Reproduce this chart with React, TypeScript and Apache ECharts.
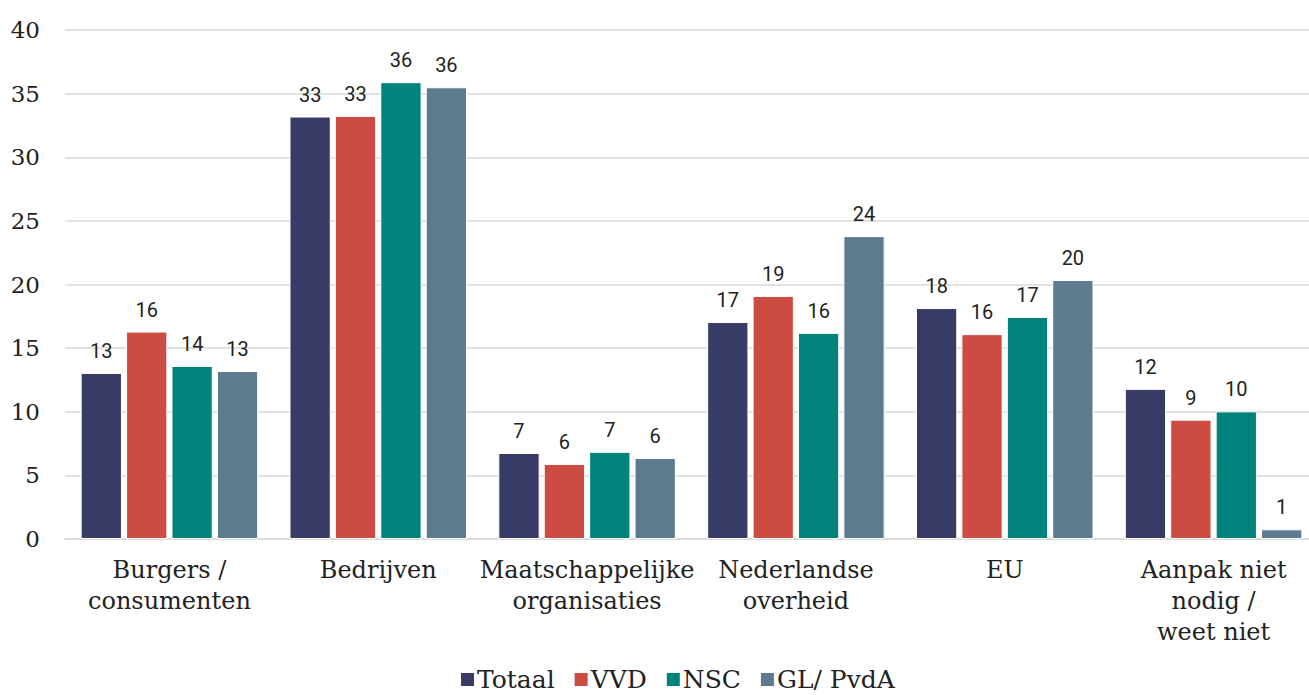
import React, { useEffect, useRef } from "react";
import * as echarts from "echarts";

const categories = [
  "Burgers /\nconsumenten",
  "Bedrijven",
  "Maatschappelijke\norganisaties",
  "Nederlandse\noverheid",
  "EU",
  "Aanpak niet\nnodig /\nweet niet",
];
const seriesNames = ["Totaal", "VVD", "NSC", "GL/ PvdA"];
const totaal = [13.05, 33.2, 6.76, 17.05, 18.15, 11.8];
const vvd = [16.3, 33.25, 5.9, 19.1, 16.1, 9.38];
const nsc = [13.6, 35.9, 6.85, 16.2, 17.45, 10.03];
const glpvda = [13.2, 35.5, 6.37, 23.8, 20.35, 0.76];
const colors = ["#393b67", "#cc4c43", "#00837a", "#5e7a8f"];
const yTicks = { min: 0, max: 40, interval: 5 };

const serif = "DejaVu Serif";

export default function App() {
  const ref = useRef<HTMLDivElement>(null);
  useEffect(() => {
    document.body.style.margin = "0";
    document.body.style.overflow = "hidden";
    if (!ref.current) return;
    const chart = echarts.init(ref.current, null, { renderer: "svg" });
    const data = [totaal, vvd, nsc, glpvda];
    chart.setOption({
      animation: false,
      color: colors,
      grid: { left: 65, right: 0, top: 30, bottom: 156, containLabel: false },
      legend: {
        bottom: -2,
        left: 454,
        itemWidth: 15,
        itemHeight: 15,
        itemGap: 18,
        icon: "rect",
        textStyle: { fontFamily: serif, fontSize: 25, color: "#222", padding: [0, 0, 0, -3] },
        data: seriesNames,
      },
      xAxis: {
        type: "category",
        data: categories,
        axisLine: { show: true, lineStyle: { color: "#d9d9d9", width: 1.5 } },
        axisTick: { show: false },
        axisLabel: {
          interval: 0,
          margin: 15,
          fontFamily: serif,
          fontSize: 24,
          lineHeight: 31,
          color: "#222",
        },
      },
      yAxis: {
        type: "value",
        min: yTicks.min,
        max: yTicks.max,
        interval: yTicks.interval,
        axisLine: { show: false },
        axisTick: { show: false },
        splitLine: { lineStyle: { color: "#d9d9d9", width: 1.5 } },
        axisLabel: {
          margin: 25,
          fontFamily: serif,
          fontSize: 23,
          color: "#222",
        },
      },
      series: seriesNames.map((name, i) => ({
        name,
        type: "bar",
        data: data[i],
        barGap: "10%",
        barCategoryGap: "15%",
        itemStyle: { borderColor: "#ffffff", borderWidth: 1 },
        label: {
          show: true,
          position: "top",
          distance: 12,
          fontFamily: "Roboto",
          fontSize: 20,
          color: "#222",
          formatter: (p: any) => String(Math.round(p.value)),
        },
      })),
    });
    return () => chart.dispose();
  }, []);
  return <div ref={ref} style={{ width: 1318, height: 695 }} />;
}
